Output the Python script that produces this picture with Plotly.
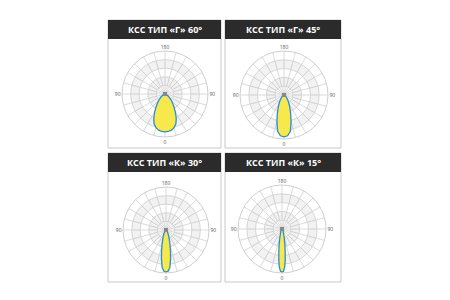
import plotly.graph_objects as go

W, H = 450, 300

titles = ["КСС ТИП «Г» 60°", "КСС ТИП «Г» 45°", "КСС ТИП «К» 30°", "КСС ТИП «К» 15°"]

# half-lobe angles (deg from nadir) and relative intensities
ang_60 = [0, 5, 10, 15, 20, 25, 30, 35, 40, 45, 50, 55, 60, 70, 80, 90]
r_60 = [0.88, 0.875, 0.855, 0.81, 0.74, 0.62, 0.48, 0.36, 0.27, 0.20, 0.14, 0.10, 0.07, 0.03, 0.01, 0.0]
ang_45 = [0, 5, 10, 15, 20, 25, 30, 35, 40, 50, 60, 75, 90]
r_45 = [0.95, 0.93, 0.84, 0.62, 0.44, 0.31, 0.22, 0.16, 0.11, 0.06, 0.03, 0.01, 0.0]
ang_30 = [0, 3, 6, 9, 12, 15, 20, 25, 30, 40, 50, 70, 90]
r_30 = [0.98, 0.96, 0.87, 0.68, 0.50, 0.36, 0.22, 0.14, 0.09, 0.045, 0.02, 0.01, 0.0]
ang_15 = [0, 2, 4, 6, 8, 10, 14, 20, 30, 45, 90]
r_15 = [0.98, 0.96, 0.87, 0.70, 0.52, 0.38, 0.21, 0.10, 0.045, 0.02, 0.0]

lobes = [(ang_60, r_60), (ang_45, r_45), (ang_30, r_30), (ang_15, r_15)]

band_inner = [0.2, 0.6]
band_outer = [0.4, 0.8]

# panel boxes (px) and polar centers/radii (px)
panels = [(108, 221, 20, 148), (225, 341, 20, 148), (108, 221, 153, 282), (225, 341, 153, 282)]
centers = [(165, 94, 43), (284, 95, 44), (166, 230, 43), (282, 229, 44)]
bar_h = 19

fig = go.Figure()
shapes = []
annotations = []

tickvals = list(range(0, 360, 15))
ticktext = []
for t in tickvals:
    if t == 0:
        ticktext.append("0")
    elif t == 90 or t == 270:
        ticktext.append("90")
    elif t == 180:
        ticktext.append("180")
    else:
        ticktext.append("")

for i, ((x0, x1, y0, y1), (cx, cy, R), (angs, rs)) in enumerate(zip(panels, centers, lobes)):
    pname = "polar" if i == 0 else f"polar{i+1}"
    shapes.append(dict(type="rect", xref="paper", yref="paper",
                       x0=x0 / W, x1=x1 / W, y0=1 - y1 / H, y1=1 - y0 / H,
                       line=dict(color="#c8c8c8", width=1), fillcolor="rgba(0,0,0,0)", layer="below"))
    shapes.append(dict(type="rect", xref="paper", yref="paper",
                       x0=x0 / W, x1=x1 / W, y0=1 - (y0 + bar_h) / H, y1=1 - y0 / H,
                       line=dict(width=0), fillcolor="#2b2b2b", layer="above"))
    annotations.append(dict(xref="paper", yref="paper", x=(x0 + x1) / 2 / W,
                            y=1 - (y0 + bar_h / 2) / H, text=f"<b>{titles[i]}</b>",
                            showarrow=False, xanchor="center", yanchor="middle",
                            font=dict(family="Open Sans", size=9, color="white")))
    for bi, bo in zip(band_inner, band_outer):
        fig.add_trace(go.Barpolar(r=[bo - bi], base=[bi], theta=[0], width=[360],
                                  marker=dict(color="rgba(0,0,0,0.05)", line=dict(width=0)),
                                  subplot=pname, showlegend=False, hoverinfo="skip"))
    theta = [-a for a in angs[::-1]] + angs[1:]
    rr = rs[::-1] + rs[1:]
    fig.add_trace(go.Scatterpolar(r=rr, theta=theta, mode="lines", fill="toself",
                                  fillcolor="#f7e84c", line=dict(color="#2a8ed6", width=1.3),
                                  subplot=pname, showlegend=False, hoverinfo="skip"))
    fig.add_trace(go.Scatterpolar(r=[0], theta=[0], mode="markers",
                                  marker=dict(symbol="square", size=4, color="#888888"),
                                  subplot=pname, showlegend=False, hoverinfo="skip"))
    fig.layout[pname] = dict(
        domain=dict(x=[(cx - R) / W, (cx + R) / W], y=[1 - (cy + R) / H, 1 - (cy - R) / H]),
        bgcolor="white",
        barmode="overlay",
        radialaxis=dict(range=[0, 1], showticklabels=False, ticks="", showline=False,
                        tickvals=[0.2, 0.4, 0.6, 0.8, 1.0], gridcolor="#dcdcdc", gridwidth=0.8),
        angularaxis=dict(rotation=270, direction="counterclockwise", tickvals=tickvals,
                         ticktext=ticktext, ticks="", showline=True, linecolor="#cfcfcf",
                         linewidth=1, gridcolor="#dcdcdc", gridwidth=0.8,
                         tickfont=dict(family="Open Sans", size=5, color="#555555")),
    )

fig.update_layout(width=W, height=H, margin=dict(l=0, r=0, t=0, b=0),
                  paper_bgcolor="white", plot_bgcolor="white",
                  shapes=shapes, annotations=annotations, showlegend=False)

fig.write_html("out.html")
